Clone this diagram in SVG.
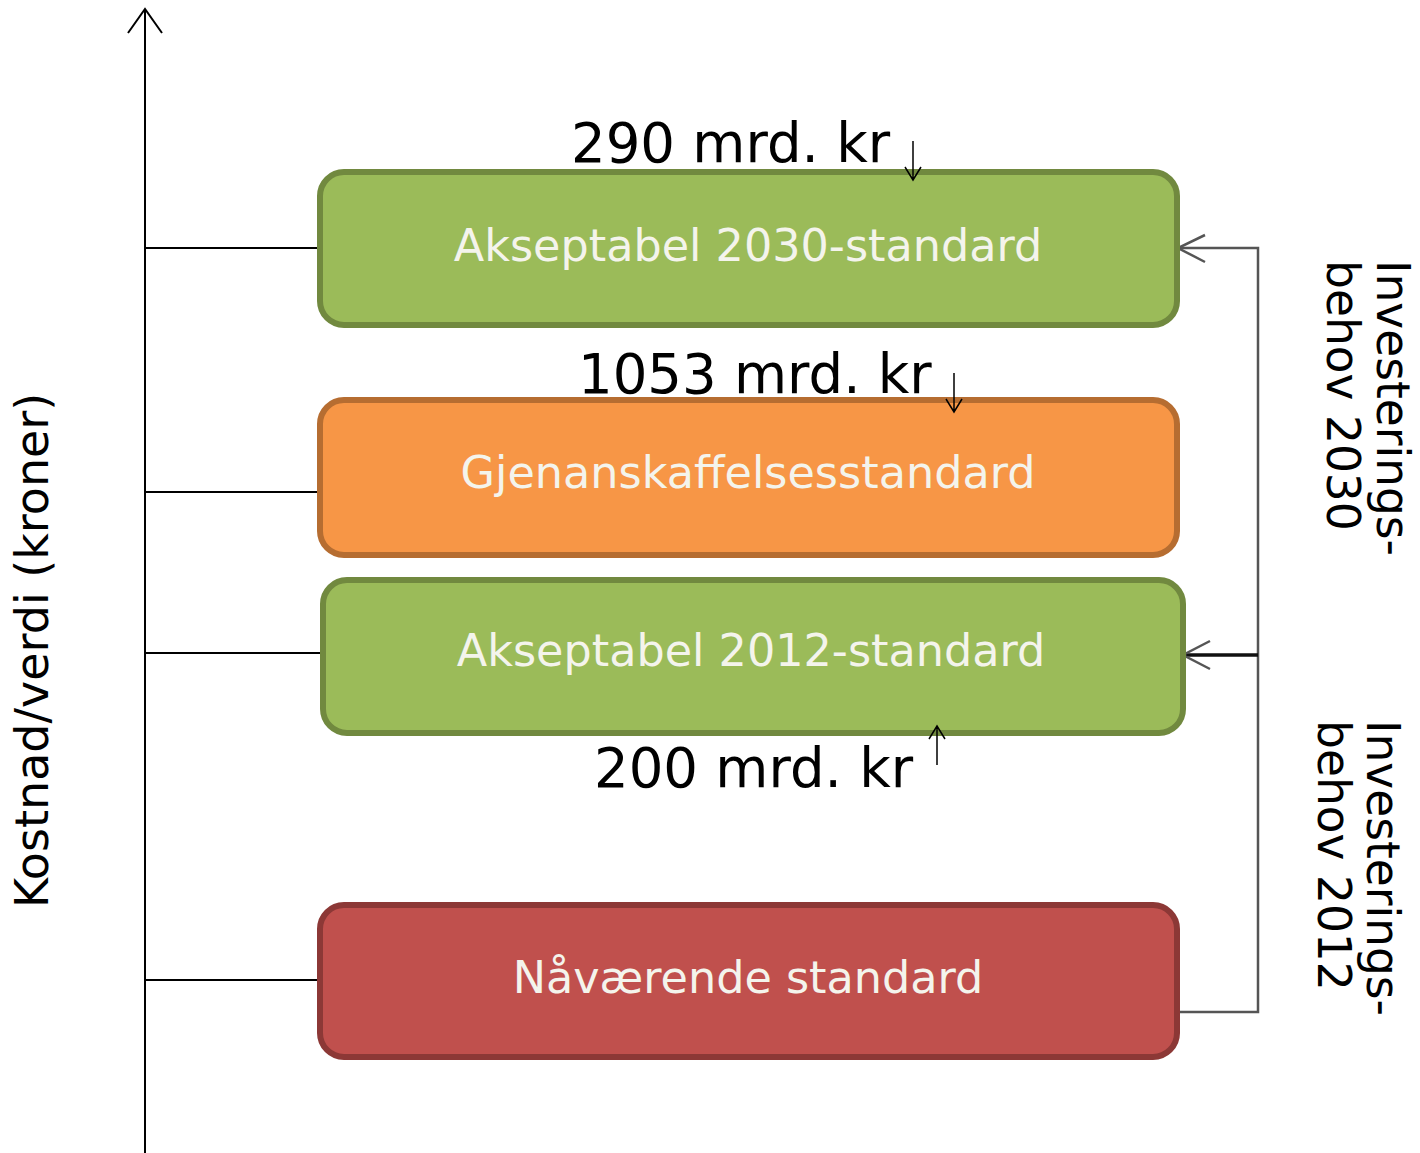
<svg xmlns="http://www.w3.org/2000/svg" width="1420" height="1153" viewBox="0 0 1420 1153">
<style>
.box{stroke-width:6}
.green{fill:#9BBB59;stroke:#71893F}
.orange{fill:#F79646;stroke:#B66D31}
.red{fill:#C0504D;stroke:#8C3836}
.bt{font-family:"DejaVu Sans",Verdana,sans-serif;font-size:44.5px;fill:#F4F4EC;text-anchor:middle}
.lbl{font-family:"DejaVu Sans",Verdana,sans-serif;font-size:54.5px;fill:#000}
.side{font-family:"DejaVu Sans",Verdana,sans-serif;font-size:45.5px;fill:#000}
.yl{font-family:"DejaVu Sans",Verdana,sans-serif;font-size:46px;fill:#000}
.ax{stroke:#000;stroke-width:2;fill:none}
.conn{stroke:#555;stroke-width:2.5;fill:none}
.sm{stroke:#000;stroke-width:1.5;fill:none}
</style>
<rect width="1420" height="1153" fill="#fff"/>
<g id="axis">
<line class="ax" x1="145" y1="9" x2="145" y2="1153"/>
<polyline class="ax" points="128,33 145,9 162,33"/>
<text class="yl" transform="translate(48,908) rotate(-90)">Kostnad/verdi (kroner)</text>
</g>
<g id="connectors">
<line class="ax" x1="145" y1="248" x2="320" y2="248"/>
<line class="ax" x1="145" y1="492" x2="320" y2="492"/>
<line class="ax" x1="145" y1="653" x2="323" y2="653"/>
<line class="ax" x1="145" y1="980" x2="320" y2="980"/>
<polyline class="conn" points="1175,1012 1258,1012 1258,248 1178,248"/>
<polyline class="conn" points="1205,235 1178,248 1205,262"/>
<line stroke="#111" stroke-width="3.5" x1="1258" y1="655" x2="1183" y2="655"/>
<polyline class="conn" points="1210,641 1183,655 1210,669"/>
</g>
<g id="n2030">
<rect class="box green" x="320" y="172" width="857" height="153" rx="24"/>
<text class="bt" x="748" y="261">Akseptabel 2030-standard</text>
</g>
<g id="ngjen">
<rect class="box orange" x="320" y="400" width="857" height="155" rx="24"/>
<text class="bt" x="748" y="488">Gjenanskaffelsesstandard</text>
</g>
<g id="n2012">
<rect class="box green" x="323" y="580" width="860" height="153" rx="24"/>
<text class="bt" x="751" y="666">Akseptabel 2012-standard</text>
</g>
<g id="nnaa">
<rect class="box red" x="320" y="905" width="857" height="152" rx="24"/>
<text class="bt" x="748" y="993">Nåværende standard</text>
</g>
<g id="labels">
<text class="lbl" x="571" y="162">290 mrd. kr</text>
<path class="sm" d="M913,141 V180 M905,167 L913,180 L921,167"/>
<text class="lbl" x="578" y="393">1053 mrd. kr</text>
<path class="sm" d="M954,373 V412 M946,399 L954,412 L962,399"/>
<text class="lbl" x="594" y="787">200 mrd. kr</text>
<path class="sm" d="M937,765 V726 M929,739 L937,726 L945,739"/>
<text class="side" transform="translate(1377,260) rotate(90)">Investerings-</text>
<text class="side" transform="translate(1327,260) rotate(90)">behov 2030</text>
<text class="side" transform="translate(1367,720) rotate(90)">Investerings-</text>
<text class="side" transform="translate(1318,720) rotate(90)">behov 2012</text>
</g>
</svg>
